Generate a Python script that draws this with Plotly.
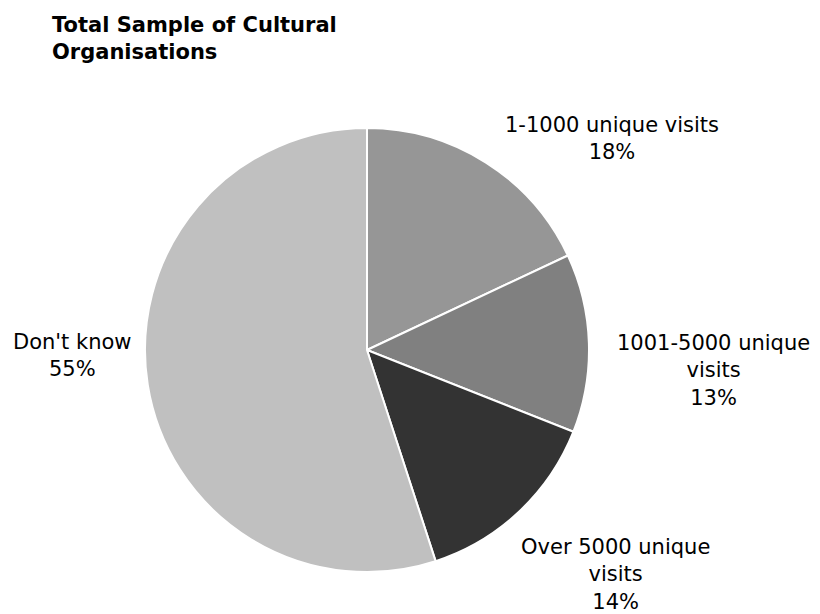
import plotly.graph_objects as go

# Share of organisations by unique visits
categories = ["1-1000 unique visits", "1001-5000 unique visits",
              "Over 5000 unique visits", "Don't know"]
shares = [18, 13, 14, 55]
# How each category name is wrapped in its callout
wrapped = ["1-1000 unique visits", "1001-5000 unique<br>visits",
           "Over 5000 unique<br>visits", "Don't know"]

W, H = 820, 614
colors = ["#969696", "#808080", "#333333", "#c0c0c0"]

# pie centre and radius in pixels
cx, cy, r = 367, 350, 222

fig = go.Figure(go.Pie(
    labels=categories,
    values=shares,
    sort=False,
    direction="clockwise",
    rotation=0,
    textinfo="none",
    hoverinfo="label+percent",
    marker=dict(colors=colors, line=dict(color="white", width=2)),
    domain=dict(x=[(cx - r) / W, (cx + r) / W],
                y=[1 - (cy + r) / H, 1 - (cy - r) / H]),
    showlegend=False,
))

# callout centres in pixels, in category order
callout_px = [(612, 138), (713, 370), (615, 574), (72, 355)]

annotations = []
for name, val, (px, py) in zip(wrapped, shares, callout_px):
    annotations.append(dict(
        text=f"{name}<br>{val}%",
        x=px / W, y=1 - py / H, xref="paper", yref="paper",
        xanchor="center", yanchor="middle", showarrow=False,
        align="center",
        font=dict(family="DejaVu Sans", size=21, color="#000000"),
    ))

annotations.append(dict(
    text="<b>Total Sample of Cultural<br>Organisations</b>",
    x=50 / W, y=1 - 11 / H, xref="paper", yref="paper",
    xanchor="left", yanchor="top", showarrow=False, align="left",
    font=dict(family="DejaVu Sans", size=21, color="#000000"),
))

fig.update_layout(
    width=W, height=H,
    margin=dict(l=0, r=0, t=0, b=0),
    paper_bgcolor="white", plot_bgcolor="white",
    annotations=annotations,
)

fig.write_html("out.html")
